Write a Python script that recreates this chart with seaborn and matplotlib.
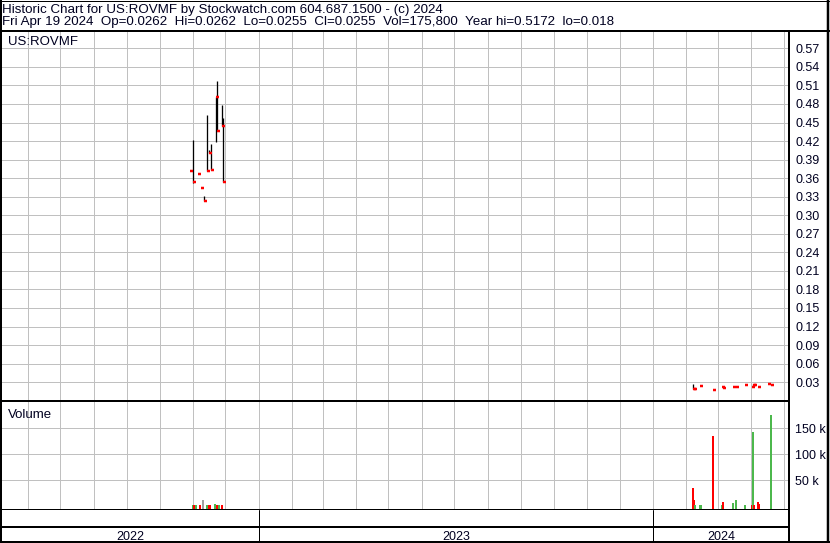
import numpy as np
import pandas as pd
import matplotlib
matplotlib.use("Agg")
import matplotlib.pyplot as plt
import matplotlib.dates as mdates
from matplotlib.lines import Line2D
import seaborn as sns

# ---------------- data ----------------
TITLE = "Historic Chart for US:ROVMF by Stockwatch.com 604.687.1500 - (c) 2024"
INFO = ("Fri Apr 19 2024  Op=0.0262  Hi=0.0262  Lo=0.0255  Cl=0.0255  "
        "Vol=175,800  Year hi=0.5172  lo=0.018")
SYMBOL = "US:ROVMF"
VOL_LABEL = "Volume"
YEARS = ["2022", "2023", "2024"]
X_START, X_END = "2022-05-08", "2024-05-06"

price_dates = ["2022-11-01", "2022-11-06", "2022-11-08", "2022-11-11", "2022-11-14",
               "2022-11-16", "2022-11-18", "2022-11-22", "2022-11-23", "2022-11-28",
               "2022-11-29",
               "2024-02-07", "2024-02-08", "2024-02-14", "2024-02-26", "2024-03-05",
               "2024-03-06", "2024-03-15", "2024-03-18", "2024-03-26", "2024-04-02",
               "2024-04-03", "2024-04-04", "2024-04-07", "2024-04-19"]
price_open = [0.371, np.nan, np.nan, np.nan, np.nan, np.nan, np.nan, np.nan, np.nan,
              np.nan, np.nan,
              np.nan, np.nan, np.nan, np.nan, np.nan, np.nan, np.nan, np.nan, np.nan,
              np.nan, np.nan, np.nan, np.nan, 0.0262]
price_high = [0.421, 0.367, 0.344, 0.331, 0.462, 0.406, 0.415, 0.491, 0.517, 0.479,
              0.458,
              0.0263, 0.019, 0.0235, 0.018, 0.022, 0.021, 0.022, 0.022, 0.0247,
              0.022, 0.0262, 0.025, 0.022, 0.0262]
price_low = [0.352, 0.367, 0.344, 0.323, 0.372, 0.400, 0.373, 0.418, 0.436, 0.445,
             0.353,
             0.019, 0.019, 0.0235, 0.018, 0.022, 0.021, 0.022, 0.022, 0.0247,
             0.022, 0.025, 0.025, 0.022, 0.0255]
price_close = [0.353, 0.367, 0.344, 0.323, 0.372, 0.401, 0.373, 0.491, 0.436, 0.445,
               0.353,
               0.019, 0.019, 0.0235, 0.018, 0.022, 0.021, 0.022, 0.022, 0.0247,
               0.022, 0.025, 0.025, 0.022, 0.0255]

vol_dates = ["2022-11-01", "2022-11-02", "2022-11-04", "2022-11-07", "2022-11-10",
             "2022-11-14", "2022-11-16", "2022-11-17", "2022-11-21", "2022-11-23",
             "2022-11-25", "2022-11-28",
             "2024-02-07", "2024-02-08", "2024-02-09", "2024-02-14", "2024-02-26",
             "2024-03-05", "2024-03-06", "2024-03-15", "2024-03-18", "2024-03-26",
             "2024-04-02", "2024-04-03", "2024-04-04", "2024-04-07", "2024-04-08",
             "2024-04-19"]
vol_values = [1500, 1500, 1500, 1500, 11000, 1500, 1500, 1500, 3000, 1500, 1500, 1500,
              35000, 11000, 2000, 1200, 136000, 1000, 8000, 6000, 12000, 1000,
              1000, 142000, 1000, 8000, 4000, 175800]
vol_dir = ["up", "down", "up", "down", "flat", "up", "down", "down", "up", "down",
           "up", "down",
           "down", "down", "up", "up", "down", "up", "down", "up", "up", "up",
           "down", "up", "down", "down", "down", "up"]

price_ticks = [0.03, 0.06, 0.09, 0.12, 0.15, 0.18, 0.21, 0.24, 0.27, 0.30,
               0.33, 0.36, 0.39, 0.42, 0.45, 0.48, 0.51, 0.54, 0.57]
vol_ticks = [50000, 100000, 150000]
vol_tick_labels = ["50 k", "100 k", "150 k"]

# ---------------- style ----------------
sns.set_theme(style="white")
plt.rcParams["font.family"] = ["Liberation Sans", "DejaVu Sans"]

W, H = 830, 543
PX = 72 / 100.0  # points per pixel
TXT = "#000020"
GRID = "#c0c0c0"
COLORS = {"up": "#4cb84c", "down": "#ff0000", "flat": "#a0a0a0"}
FS = 9
HFS = 9.65

fig = plt.figure(figsize=(W / 100, H / 100), dpi=100)
fig.patch.set_facecolor("white")


def box(l, t, r, b):
    return [l / W, 1 - b / H, (r - l) / W, (b - t) / H]


ax_p = fig.add_axes(box(2, 32, 789, 401))
ax_v = fig.add_axes(box(2, 402, 789, 509.5), sharex=ax_p)
ax_y = fig.add_axes(box(2, 510, 789, 541), sharex=ax_p)

xlim = (pd.Timestamp(X_START), pd.Timestamp(X_END))

for ax in (ax_p, ax_v, ax_y):
    ax.set_facecolor("white")
    for s in ax.spines.values():
        s.set_visible(False)
    ax.spines["right"].set_visible(True)
    ax.spines["right"].set_linewidth(2 * PX)
    ax.spines["right"].set_color("black")
    ax.tick_params(axis="x", length=0, labelbottom=False)

for ax in (ax_p, ax_v):
    ax.spines["bottom"].set_visible(True)
    ax.spines["bottom"].set_linewidth(2 * PX)
    ax.spines["bottom"].set_color("black")
    ax.xaxis.set_major_locator(mdates.MonthLocator())
    ax.grid(True, color=GRID, linewidth=1 * PX, antialiased=False)
    ax.set_axisbelow(True)
    ax.yaxis.tick_right()
    ax.tick_params(axis="y", length=0, pad=6 * PX, labelsize=FS, labelcolor=TXT)

# ---- price panel ----
pdates = pd.to_datetime(price_dates)
ax_p.vlines(pdates, price_low, price_high, color="black", linewidth=1.3 * PX)
ax_p.plot(pdates, price_open, linestyle="none", marker=0, markersize=3 * PX,
          markeredgewidth=2.5 * PX, color="#ff0000")
ax_p.plot(pdates, price_close, linestyle="none", marker=1, markersize=3 * PX,
          markeredgewidth=2.5 * PX, color="#ff0000")
ax_p.set_yticks(price_ticks)
ax_p.set_yticklabels([f"{t:.2f}" for t in price_ticks])
ax_p.set_ylim(-0.0005, 0.5964)
ax_p.set_xlim(*xlim)

# ---- volume panel ----
VOL_FLOOR = -7000
vdates = pd.to_datetime(vol_dates)
vvals = np.array(vol_values, dtype=float)
ax_v.bar(vdates, vvals - VOL_FLOOR, bottom=VOL_FLOOR, width=1.9,
         color=[COLORS[d] for d in vol_dir], linewidth=0)
ax_v.set_yticks(vol_ticks)
ax_v.set_yticklabels(vol_tick_labels)
ax_v.set_ylim(VOL_FLOOR, 201000)

# ---- year band ----
ax_y.set_ylim(0, 1)
ax_y.set_yticks([])
ax_y.axhline((541 - 526.5) / 31, color="black", linewidth=2 * PX)
x0n, x1n = mdates.date2num(xlim[0]), mdates.date2num(xlim[1])
for yr in YEARS:
    s = max(mdates.date2num(pd.Timestamp(f"{yr}-01-01")), x0n)
    e = min(mdates.date2num(pd.Timestamp(f"{int(yr) + 1}-01-01")), x1n)
    if s > x0n:
        ax_y.axvline(s, color="black", linewidth=1 * PX)
    ax_y.text((s + e) / 2, (541 - 539.5) / 31, yr, ha="center", va="baseline",
              fontsize=FS, color=TXT)

# ---- texts ----
fig.text(2 / W, 1 - 12.5 / H, TITLE, ha="left", va="baseline", fontsize=HFS, color=TXT)
fig.text(2 / W, 1 - 25.5 / H, INFO, ha="left", va="baseline", fontsize=HFS, color=TXT)
fig.text(8 / W, 1 - 45 / H, SYMBOL, ha="left", va="baseline", fontsize=9.5, color=TXT)
fig.text(8 / W, 1 - 417.5 / H, VOL_LABEL, ha="left", va="baseline", fontsize=9.5, color=TXT)

# ---- frame lines ----
def fline(x0, y0, x1, y1, lw):
    fig.add_artist(Line2D([x0 / W, x1 / W], [1 - y0 / H, 1 - y1 / H],
                          transform=fig.transFigure, color="black",
                          linewidth=lw * PX, solid_capstyle="butt"))

fline(0, 31, W, 31, 2)          # header separator
fline(0, 0.5, W, 0.5, 1)        # top border
fline(1, 0, 1, H, 2)            # left border
fline(828, 0, 828, H, 2.5)      # right border
fline(0, 542, W, 542, 2)        # bottom border
fline(789, 31, 789, H, 2)       # divider to labels column

fig.savefig("out.png", dpi=100)
